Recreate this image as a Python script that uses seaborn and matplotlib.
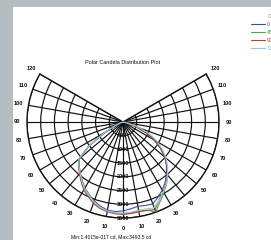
import numpy as np
import pandas as pd
import matplotlib
matplotlib.use("Agg")
import matplotlib.pyplot as plt
from matplotlib.patches import Rectangle
from matplotlib.lines import Line2D
import seaborn as sns

# ---------------- data ----------------
angles_deg = [-90, -85, -80, -75, -70, -65, -60, -55, -50, -45, -40, -35, -30, -25, -20, -15, -10, -5,
              0,
              5, 10, 15, 20, 25, 30, 35, 40, 45, 50, 55, 60, 65, 70, 75, 80, 85, 90]

cd_0 = [0, 0, 10, 40, 110, 300, 740, 1480, 2070, 2260, 2420, 2600, 2780, 2920, 3060, 3180, 3260, 3280,
        3240,
        3180, 3120, 3150, 3180, 3020, 2860, 2680, 2460, 2240, 1990, 1660, 1300, 930, 490, 190, 50, 10, 0]
cd_45 = [0, 0, 10, 40, 110, 310, 760, 1500, 2090, 2270, 2430, 2610, 2800, 2940, 3100, 3220, 3300, 3340,
         3340,
         3330, 3300, 3330, 3490, 3200, 2980, 2770, 2520, 2280, 2020, 1700, 1340, 970, 520, 210, 60, 10, 0]
cd_90 = [0, 0, 10, 40, 120, 330, 780, 1520, 2110, 2300, 2470, 2660, 2860, 3000, 3160, 3260, 3320, 3360,
         3370,
         3350, 3320, 3340, 3400, 3120, 2930, 2740, 2500, 2260, 2000, 1680, 1320, 950, 500, 200, 60, 10, 0]
cd_135 = [0, 0, 10, 40, 120, 320, 770, 1510, 2100, 2280, 2440, 2620, 2800, 2950, 3100, 3220, 3290, 3330,
          3320,
          3300, 3270, 3280, 3330, 3130, 2940, 2760, 2530, 2300, 2050, 1760, 1450, 1150, 700, 300, 90, 20, 0]

plane_labels = ["0", "45", "90", "135"]
plane_colors = ["#3f4f9f", "#4aa84c", "#c0392b", "#8ccbe6"]

ring_values = [500, 1000, 1500, 2000, 2500, 3000, 3500]
spoke_angles = [-120, -110, -100, -90, -80, -70, -60, -50, -40, -30, -20, -10,
                0, 10, 20, 30, 40, 50, 60, 70, 80, 90, 100, 110, 120]

title_text = "Polar Candela Distribution Plot"
footer_text = "Min:1.4015e-017 cd, Max:3493.5 cd"

# ---------------- build frame ----------------
frames = []
for lab, vals in zip(plane_labels, [cd_0, cd_45, cd_90, cd_135]):
    frames.append(pd.DataFrame({"theta": np.deg2rad(angles_deg), "cd": vals, "plane": lab}))
df = pd.concat(frames, ignore_index=True)

# ---------------- figure ----------------
sns.set_theme(style="white")
plt.rcParams["font.family"] = ["Liberation Sans", "DejaVu Sans"]

W, H = 271, 240
fig = plt.figure(figsize=(W / 100, H / 100), dpi=100)
fig.patch.set_facecolor("#b5bdc1")
fig.patches.append(Rectangle((13 / W, 0), 1 - 13 / W, 1 - 7 / H, transform=fig.transFigure,
                             facecolor="white", edgecolor="none", zorder=-5))

cx, cy, R = 123, 122, 96
ax = fig.add_axes([(cx - R) / W, (H - (cy + R + 24)) / H, 2 * R / W, 2 * R / H], projection="polar")
ax.set_zorder(2)
ax.set_facecolor("white")
ax.set_theta_zero_location("S")
ax.set_theta_direction(1)

sns.lineplot(data=df, x="theta", y="cd", hue="plane", hue_order=plane_labels,
             palette=dict(zip(plane_labels, plane_colors)), sort=False, estimator=None,
             linewidth=0.8, legend=False, ax=ax, zorder=3)

ax.set_thetamin(-120)
ax.set_thetamax(120)
ax.set_rlim(0, 3500)
ax.set_xlabel("")
ax.set_ylabel("")

ax.set_xticks(np.deg2rad(spoke_angles))
ax.set_xticklabels([str(abs(a)) for a in spoke_angles], fontsize=4.1, fontweight="bold",
                   color="#111111")
ax.set_yticks(ring_values)
ax.set_yticklabels([])
ax.tick_params(axis="x", pad=0.3, length=0)
ax.tick_params(axis="y", length=0)
ax.grid(True, color="#111111", linewidth=0.85)
for sp in ax.spines.values():
    sp.set_color("#111111")
    sp.set_linewidth(1.0)

for rv in ring_values:
    ax.text(0, rv, str(rv), ha="center", va="center", fontsize=4.0, fontweight="bold",
            color="#111111", zorder=4)

fig.text(cx / W, 1 - 63 / H, title_text, ha="center", va="center", fontsize=4.0, color="#111111")
fig.text(111 / W, 1 - 236.5 / H, footer_text, ha="center", va="center", fontsize=3.6, color="#111111")

# legend (partly off the right edge)
handles = [Line2D([], [], color=c, linewidth=0.8) for c in plane_colors]
leg = fig.legend(handles, plane_labels, loc="upper left", bbox_to_anchor=(251 / W, 1 - 21.5 / H),
                 bbox_transform=fig.transFigure, frameon=False, fontsize=3.5,
                 handlelength=2.9, handletextpad=0.4, labelspacing=0.65,
                 borderpad=0, borderaxespad=0)
for t, c in zip(leg.get_texts(), plane_colors):
    t.set_color(c)
fig.text(268 / W, 1 - 16.5 / H, "C-Planes", ha="left", va="center", fontsize=3.5, color="#888888")

fig.savefig("out.png", dpi=100, facecolor=fig.get_facecolor())
